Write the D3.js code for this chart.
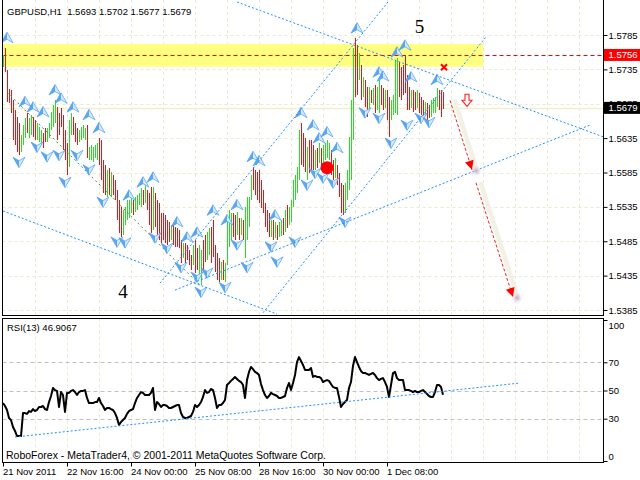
<!DOCTYPE html>
<html><head><meta charset="utf-8">
<script src="https://cdn.jsdelivr.net/npm/d3@7"></script>
<style>
html,body{margin:0;padding:0;background:#fff;}
svg{display:block;font-family:"Liberation Sans",Arial,sans-serif;}
</style></head><body>
<svg id="chart" width="640" height="480"></svg>
<script>
// ---- GBPUSD H1 bars (bar 0 = 21 Nov 2011 08:00) ----
const title = "GBPUSD,H1  1.5693 1.5702 1.5677 1.5679";
const highs = [
1.5756,1.5766,1.5734,1.5706,1.5705,1.5690,1.5676,1.5666,1.5657,1.5640,
1.5654,1.5664,1.5672,1.5664,1.5669,1.5666,1.5661,1.5657,1.5651,1.5647,
1.5642,1.5650,1.5650,1.5657,1.5673,1.5683,1.5690,1.5680,1.5672,1.5679,
1.5669,1.5647,1.5628,1.5661,1.5672,1.5666,1.5657,1.5650,1.5647,1.5651,
1.5654,1.5650,1.5654,1.5622,1.5625,1.5622,1.5625,1.5628,1.5635,1.5632,
1.5603,1.5596,1.5589,1.5592,1.5586,1.5581,1.5574,1.5560,1.5545,1.5535,
1.5530,1.5535,1.5545,1.5545,1.5548,1.5545,1.5549,1.5552,1.5555,1.5562,
1.5560,1.5567,1.5560,1.5555,1.5564,1.5564,1.5555,1.5545,1.5541,1.5526,
1.5526,1.5523,1.5516,1.5513,1.5509,1.5509,1.5506,1.5504,1.5501,1.5487,
1.5483,1.5483,1.5480,1.5472,1.5465,1.5480,1.5487,1.5475,1.5480,1.5472,
1.5487,1.5494,1.5498,1.5504,1.5506,1.5516,1.5480,1.5468,1.5461,1.5455,
1.5458,1.5453,1.5516,1.5530,1.5526,1.5526,1.5523,1.5527,1.5519,1.5519,
1.5516,1.5535,1.5549,1.5549,1.5581,1.5593,1.5589,1.5586,1.5589,1.5574,
1.5560,1.5541,1.5530,1.5526,1.5516,1.5516,1.5513,1.5509,1.5513,1.5516,
1.5519,1.5530,1.5538,1.5535,1.5545,1.5574,1.5581,1.5593,1.5647,1.5657,
1.5642,1.5635,1.5622,1.5632,1.5632,1.5625,1.5618,1.5621,1.5628,1.5621,
1.5625,1.5628,1.5632,1.5628,1.5618,1.5603,1.5606,1.5596,1.5584,1.5570,
1.5567,1.5570,1.5589,1.5637,1.5690,1.5766,1.5781,1.5770,1.5759,1.5741,
1.5724,1.5720,1.5709,1.5709,1.5705,1.5708,1.5712,1.5709,1.5720,1.5712,
1.5708,1.5705,1.5705,1.5695,1.5690,1.5698,1.5749,1.5752,1.5746,1.5738,
1.5741,1.5756,1.5727,1.5709,1.5705,1.5705,1.5702,1.5705,1.5701,1.5695,
1.5690,1.5688,1.5686,1.5683,1.5690,1.5693,1.5695,1.5708,1.5705,1.5705,
1.5702];
const lows = [
1.5738,1.5731,1.5688,1.5686,1.5672,1.5632,1.5625,1.5615,1.5610,1.5615,
1.5625,1.5635,1.5642,1.5635,1.5640,1.5637,1.5632,1.5632,1.5629,1.5625,
1.5621,1.5629,1.5629,1.5635,1.5647,1.5651,1.5657,1.5632,1.5640,1.5651,
1.5618,1.5603,1.5581,1.5593,1.5640,1.5640,1.5629,1.5625,1.5629,1.5632,
1.5635,1.5632,1.5606,1.5603,1.5603,1.5600,1.5606,1.5603,1.5596,1.5574,
1.5555,1.5552,1.5549,1.5552,1.5549,1.5552,1.5545,1.5516,1.5497,1.5491,
1.5494,1.5509,1.5516,1.5519,1.5526,1.5523,1.5527,1.5530,1.5538,1.5535,
1.5538,1.5541,1.5530,1.5509,1.5497,1.5501,1.5506,1.5494,1.5487,1.5483,
1.5487,1.5483,1.5480,1.5484,1.5487,1.5480,1.5477,1.5477,1.5475,1.5453,
1.5461,1.5453,1.5458,1.5450,1.5443,1.5450,1.5439,1.5443,1.5436,1.5421,
1.5443,1.5455,1.5458,1.5465,1.5453,1.5462,1.5440,1.5429,1.5426,1.5429,
1.5429,1.5426,1.5450,1.5477,1.5487,1.5491,1.5487,1.5494,1.5487,1.5494,
1.5487,1.5461,1.5487,1.5506,1.5545,1.5560,1.5552,1.5545,1.5541,1.5533,
1.5526,1.5506,1.5498,1.5491,1.5491,1.5487,1.5490,1.5487,1.5491,1.5493,
1.5494,1.5498,1.5504,1.5509,1.5513,1.5535,1.5545,1.5555,1.5574,1.5596,
1.5593,1.5586,1.5574,1.5584,1.5586,1.5589,1.5589,1.5592,1.5599,1.5596,
1.5600,1.5603,1.5606,1.5603,1.5581,1.5574,1.5577,1.5567,1.5549,1.5526,
1.5523,1.5526,1.5545,1.5560,1.5574,1.5632,1.5695,1.5698,1.5720,1.5690,
1.5695,1.5680,1.5666,1.5676,1.5686,1.5683,1.5672,1.5676,1.5672,1.5683,
1.5676,1.5679,1.5661,1.5637,1.5661,1.5669,1.5672,1.5669,1.5695,1.5690,
1.5698,1.5701,1.5676,1.5676,1.5679,1.5673,1.5676,1.5679,1.5672,1.5669,
1.5666,1.5669,1.5661,1.5664,1.5666,1.5672,1.5672,1.5680,1.5676,1.5666,
1.5677];
// g = bull bar, r = bear bar
const barKind =
"grrrrrrrrg"+"ggrggrrggg"+"rrgggggrrr"+"rrrggrrrgg"+"ggrgggggrr"+
"rrgrgrrrrr"+"gggggrgggg"+"rgrrrgrrrr"+"rrrrgrrrrr"+"grrrrgrrgg"+
"rrggrrrrrg"+"rggggrrgrg"+"rggggrrrrr"+"rrrrgrgrgg"+"rgrggggggr"+
"rrgrrrgrgr"+"ggggrrgrrr"+"rgggggrrgr"+"grrgrgrggr"+"rgrrggggrr"+
"rrrrgrrgrr"+"rgrrggggrr"+"r";
const rsi = [
41.1,39.0,36.2,30.5,29.1,24.1,21.3,17.7,17.7,17.7,
34.0,34.0,33.4,35.4,34.8,36.8,35.4,36.2,38.3,38.3,
39.0,36.8,36.2,41.8,46.1,51.8,50.3,49.7,38.3,48.9,
46.8,34.8,48.3,48.3,49.7,50.3,48.9,46.8,48.9,49.7,
49.7,50.3,44.7,41.1,41.1,41.1,41.8,41.8,44.7,41.1,
39.0,36.2,37.6,37.6,36.8,36.2,34.0,30.5,25.5,27.7,
29.1,30.5,33.4,35.4,36.2,36.8,41.1,44.7,46.8,48.9,
48.3,46.8,46.8,46.8,48.3,51.8,36.2,41.8,40.4,38.3,
39.7,39.7,39.0,37.6,37.6,38.3,39.0,39.7,39.7,34.0,
31.2,30.5,30.5,31.2,31.9,34.8,39.7,38.3,39.7,41.8,
45.4,50.3,48.3,48.9,51.1,50.3,44.7,37.6,39.7,39.7,
41.1,43.3,53.9,55.3,56.8,58.2,59.6,58.2,56.8,56.0,
53.9,44.7,57.4,63.2,66.7,65.2,63.2,62.4,61.0,54.6,
50.3,46.8,44.7,46.1,48.3,47.5,46.8,46.1,44.7,44.7,
45.4,46.1,51.8,55.3,50.3,55.3,61.0,70.2,73.7,70.9,
68.1,64.6,64.6,64.6,66.0,59.6,60.3,59.6,59.6,58.8,
56.0,56.8,57.4,56.8,54.6,52.5,51.8,51.8,45.4,38.3,
40.4,41.8,43.3,51.8,56.0,67.4,73.7,70.2,66.7,63.8,
62.4,62.4,61.8,61.0,61.8,62.4,61.0,58.8,57.4,58.2,
58.8,56.0,52.5,45.4,53.9,62.4,63.2,58.8,57.4,57.4,
57.4,50.3,50.3,50.3,49.7,48.9,49.7,48.9,48.9,49.7,
50.3,48.9,47.5,46.1,45.4,45.4,48.9,53.9,53.9,52.5,
46.9067];

const priceTicks = [1.5785,1.5735,1.5685,1.5635,1.5585,1.5535,1.5485,1.5435,1.5385];
const rsiTicks = [100,70,50,30,0];
const rsiLevels = [70,50,30];
const timeBars = [0,32,64,96,128,160,192];
const timeTexts = ["21 Nov 2011","22 Nov 16:00","24 Nov 00:00","25 Nov 08:00","28 Nov 16:00","30 Nov 00:00","1 Dec 08:00"];
const gridStep = 16;

const resistanceLevel = 1.5756;
const resistanceZone = [1.5739, 1.5772];
const zoneBars = [0, 240];
const bidPrice = 1.5679;

// fractal markers: [bar, price]
const upMarks = [[2,1.5781],[11,1.5688],[15,1.5680],[20,1.5673],[26,1.5705],[29,1.5693],[35,1.5680],
 [43,1.5669],[48,1.5650],[63,1.5552],[70,1.5571],[75,1.5578],[87,1.5513],[92,1.5491],[97,1.5498],
 [105,1.5530],[112,1.5516],[117,1.5538],[125,1.5608],[128,1.5602],[136,1.5523],[149,1.5672],
 [155,1.5654],[158,1.5635],[162,1.5644],[167,1.5621],[177,1.5795],[188,1.5731],[190,1.5725],
 [197,1.5760],[201,1.5770],[204,1.5724],[217,1.5720]];
const downMarks = [[8,1.5600],[17,1.5622],[22,1.5608],[28,1.5610],[31,1.5571],[37,1.5610],[43,1.5589],
 [50,1.5542],[57,1.5484],[61,1.5483],[76,1.5490],[82,1.5475],[89,1.5447],[97,1.5433],[99,1.5411],
 [102,1.5439],[111,1.5418],[117,1.5480],[122,1.5447],[134,1.5477],[137,1.5455],[146,1.5484],
 [152,1.5567],[156,1.5584],[160,1.5577],[165,1.5570],[171,1.5513],[181,1.5672],[188,1.5664],
 [194,1.5628],[202,1.5654],[209,1.5664],[213,1.5658]];

// channel / triangle lines: [[bar, price], [bar, price]]
const channelLines = [
 [[117,1.5833],[300,1.5637]],
 [[0,1.5529],[137,1.5379]],
 [[86,1.5414],[293.5,1.5654]],
 [[78.5,1.5424],[192.5,1.5833]],
 [[130,1.5381],[242,1.5784]]
];
const waveLine = [[2,1.5702],[98.5,1.5421]];
const rsiTrend = [[6,17.0],[258.5,55.3]];
const forecast = [
 [[223.5,1.5690],[234.5,1.5589]],
 [[236.5,1.5570],[255,1.5404]]
];
const entryDot = [162,1.5592];
const stopMark = [220.5,1.5738];
const sellMark = [232,1.5690];
const waveLabels = [{text:"5", bar:208.3, price:1.5788},{text:"4", bar:60, price:1.5403}];

// ---- layout ----
const L = 2.5, R = 603.5, mainBottom = 315.5, rsiTop = 318.5, rsiBottom = 462.5;
const x = d3.scaleLinear().domain([0, 220]).range([3, 443]);
const y = d3.scaleLinear().domain([1.5385, 1.5785]).range([310, 35]);
const yR = d3.scaleLinear().domain([0, 100]).range([461, 320]);
const px = i => Math.round(x(i)) + 0.5;

const svg = d3.select("#chart");
const defs = svg.append("defs");
defs.append("clipPath").attr("id","clipMain").append("rect").attr("x",L).attr("y",0).attr("width",R-L).attr("height",mainBottom);
defs.append("clipPath").attr("id","clipRsi").append("rect").attr("x",L).attr("y",rsiTop).attr("width",R-L).attr("height",rsiBottom-rsiTop);
const glow = defs.append("radialGradient").attr("id","glow");
glow.append("stop").attr("offset","0%").attr("stop-color","#b8a0c8").attr("stop-opacity",0.85);
glow.append("stop").attr("offset","100%").attr("stop-color","#e8dcef").attr("stop-opacity",0);

const gridBars = d3.range(gridStep, 300, gridStep);
const gridColor = "#ebe9cf";

// ---- main panel ----
const main = svg.append("g").attr("clip-path","url(#clipMain)");
main.selectAll("line.vg").data(gridBars).join("line")
  .attr("x1",d=>px(d)).attr("x2",d=>px(d)).attr("y1",0).attr("y2",mainBottom)
  .attr("stroke",gridColor).attr("stroke-dasharray","3,3");
main.selectAll("line.hg").data(priceTicks).join("line")
  .attr("x1",L).attr("x2",R).attr("y1",d=>Math.round(y(d))+0.5).attr("y2",d=>Math.round(y(d))+0.5)
  .attr("stroke",gridColor).attr("stroke-dasharray","3,3");

main.append("rect")
  .attr("x",L).attr("width",x(zoneBars[1])-L)
  .attr("y",y(resistanceZone[1])).attr("height",y(resistanceZone[0])-y(resistanceZone[1]))
  .attr("fill","#ffff80");

main.append("line").attr("x1",L).attr("x2",R)
  .attr("y1",Math.round(y(bidPrice))+0.5).attr("y2",Math.round(y(bidPrice))+0.5)
  .attr("stroke","#f0f0cc").attr("stroke-width",1.5);

main.append("line").attr("x1",L).attr("x2",R)
  .attr("y1",Math.round(y(resistanceLevel))+0.5).attr("y2",Math.round(y(resistanceLevel))+0.5)
  .attr("stroke","#ff0000").attr("stroke-dasharray","4,3");

// bars
const barColor = i => barKind[i] === "g" ? "#20e020" : "#f01010";
main.append("g").selectAll("line").data(d3.range(highs.length)).join("line")
  .attr("x1",i=>px(i)).attr("x2",i=>px(i))
  .attr("y1",i=>y(highs[i])).attr("y2",i=>y(lows[i]))
  .style("stroke",barColor)
  .attr("stroke-width",1).attr("shape-rendering","crispEdges");

// green wave line
main.append("line")
  .attr("x1",x(waveLine[0][0])).attr("y1",y(waveLine[0][1]))
  .attr("x2",x(waveLine[1][0])).attr("y2",y(waveLine[1][1]))
  .attr("stroke","#3c8c46").attr("stroke-dasharray","2,3");

// fractal arrows
function drawMark(g, d, up){
  const m = g.append("g").attr("transform",`translate(${x(d[0])},${y(d[1])}) scale(1,${up?1:-1})`);
  m.append("path").attr("d","M0,-5.5L-6,5L0,1.5Z").attr("fill","#5aa6f4");
  m.append("path").attr("d","M0,-5.5L6,5L0,1.5Z").attr("fill","#d4eaff");
  m.append("path").attr("d","M0,-5.5L6,5L0,1.5L-6,5Z").attr("fill","none").attr("stroke","#4a9cf0").attr("stroke-width",0.7);
}
const marks = main.append("g");
upMarks.forEach(d=>drawMark(marks,d,true));
downMarks.forEach(d=>drawMark(marks,d,false));

// channel lines
main.append("g").selectAll("line").data(channelLines).join("line")
  .attr("x1",d=>x(d[0][0])).attr("y1",d=>y(d[0][1]))
  .attr("x2",d=>x(d[1][0])).attr("y2",d=>y(d[1][1]))
  .attr("stroke","#1e90ff").attr("stroke-dasharray","2,2");

// forecast arrows
forecast.forEach(seg=>{
  const x1=x(seg[0][0]), y1=y(seg[0][1]), x2=x(seg[1][0]), y2=y(seg[1][1]);
  main.append("line").attr("x1",x1+5).attr("y1",y1+1).attr("x2",x2+5).attr("y2",y2+1)
    .attr("stroke","#f1f1e6").attr("stroke-width",4.5).attr("stroke-linecap","round");
  main.append("circle").attr("cx",x2+4).attr("cy",y2+1).attr("r",6).attr("fill","url(#glow)");
  main.append("line").attr("x1",x1).attr("y1",y1).attr("x2",x2).attr("y2",y2)
    .attr("stroke","#ee2222").attr("stroke-dasharray","3,2");
  const a = Math.atan2(y2-y1, x2-x1)*180/Math.PI;
  main.append("path").attr("d","M0,0L-9,-4.5L-9,4.5Z").attr("fill","#ff0000")
    .attr("transform",`translate(${x2},${y2}) rotate(${a})`);
});

main.append("circle").attr("cx",x(entryDot[0])).attr("cy",y(entryDot[1])).attr("r",6.5).attr("fill","#ff0000");
main.append("path").attr("d","M-3,-3L3,3M-3,3L3,-3")
  .attr("transform",`translate(${x(stopMark[0])},${y(stopMark[1])})`)
  .attr("stroke","#ff0000").attr("stroke-width",2);
main.append("path").attr("d","M-2,-6H2V0H5L0,6L-5,0H-2Z")
  .attr("transform",`translate(${x(sellMark[0])},${y(sellMark[1])})`)
  .attr("fill","#fff").attr("stroke","#ff2020").attr("stroke-width",1.1);

main.selectAll("text.wave").data(waveLabels).join("text")
  .attr("x",d=>x(d.bar)).attr("y",d=>y(d.price)).attr("text-anchor","middle")
  .attr("font-family","'Liberation Serif','Times New Roman',serif").attr("font-size",19)
  .attr("fill","#000").text(d=>d.text);

svg.append("text").attr("x",7).attr("y",14.5).attr("font-size",9.5).style("white-space","pre")
  .attr("fill","#000").text(title);

// price axis
const pAxis = svg.append("g").attr("transform",`translate(${R},0)`)
  .call(d3.axisRight(y).tickValues(priceTicks).tickSize(4).tickPadding(1).tickFormat(d3.format(".4f")));
pAxis.select(".domain").remove();
pAxis.selectAll("text").attr("font-size",9.5).attr("font-family","'Liberation Sans',Arial,sans-serif").attr("fill","#000");

function priceTag(price, bg){
  const g = svg.append("g").attr("transform",`translate(${R},${y(price)})`);
  g.append("rect").attr("x",0.5).attr("y",-6).attr("width",37).attr("height",12).attr("fill",bg);
  g.append("text").attr("x",5).attr("y",3.5).attr("font-size",9.5).attr("fill","#fff").text(d3.format(".4f")(price));
}
priceTag(resistanceLevel, "#ff0000");
priceTag(bidPrice, "#000000");

// ---- RSI panel ----
const rs = svg.append("g").attr("clip-path","url(#clipRsi)");
rs.selectAll("line.vg").data(gridBars).join("line")
  .attr("x1",d=>px(d)).attr("x2",d=>px(d)).attr("y1",rsiTop).attr("y2",rsiBottom)
  .attr("stroke",gridColor).attr("stroke-dasharray","3,3");
rs.selectAll("line.lv").data(rsiLevels).join("line")
  .attr("x1",L).attr("x2",R).attr("y1",d=>Math.round(yR(d))+0.5).attr("y2",d=>Math.round(yR(d))+0.5)
  .attr("stroke","#c0c0c0").attr("stroke-dasharray","4,3");
rs.append("path").datum(rsi)
  .attr("d",d3.line().x((d,i)=>x(i)).y(d=>yR(d)))
  .attr("fill","none").attr("stroke","#000").attr("stroke-width",2).attr("stroke-linejoin","round");
rs.append("line")
  .attr("x1",x(rsiTrend[0][0])).attr("y1",yR(rsiTrend[0][1]))
  .attr("x2",x(rsiTrend[1][0])).attr("y2",yR(rsiTrend[1][1]))
  .attr("stroke","#1e90ff").attr("stroke-dasharray","2,2");

svg.append("text").attr("x",7).attr("y",330.5).attr("font-size",9.5).attr("fill","#000")
  .text(`RSI(13) ${d3.format(".4f")(rsi[rsi.length-1])}`);
svg.append("text").attr("x",6).attr("y",459).attr("font-size",10.5).attr("fill","#000")
  .text("RoboForex - MetaTrader4, © 2001-2011 MetaQuotes Software Corp.");

const rAxis = svg.append("g").attr("transform",`translate(${R},0)`)
  .call(d3.axisRight(yR).tickValues(rsiTicks).tickSize(4).tickPadding(1));
rAxis.select(".domain").remove();
rAxis.selectAll("text").attr("font-size",9.5).attr("fill","#000")
  .attr("y", d => Math.min(Math.max(yR(d), rsiTop+7), rsiBottom-6) - yR(d));

// time axis
const tAxis = svg.append("g").attr("transform",`translate(0,${rsiBottom})`)
  .call(d3.axisBottom(x).tickValues(timeBars).tickSize(4).tickPadding(2).tickFormat((d,k)=>timeTexts[k]));
tAxis.select(".domain").remove();
tAxis.selectAll("text").attr("text-anchor","start").attr("x",-0.5).attr("font-size",9.5).attr("fill","#000");

// frames
const frame = svg.append("g").attr("stroke","#000").attr("fill","none").attr("shape-rendering","crispEdges");
frame.append("path").attr("d",`M${L},0V${mainBottom}H${R}V0`);
frame.append("path").attr("d",`M${L},${rsiTop}H${R}V${rsiBottom}H${L}Z`);
</script>
</body></html>
